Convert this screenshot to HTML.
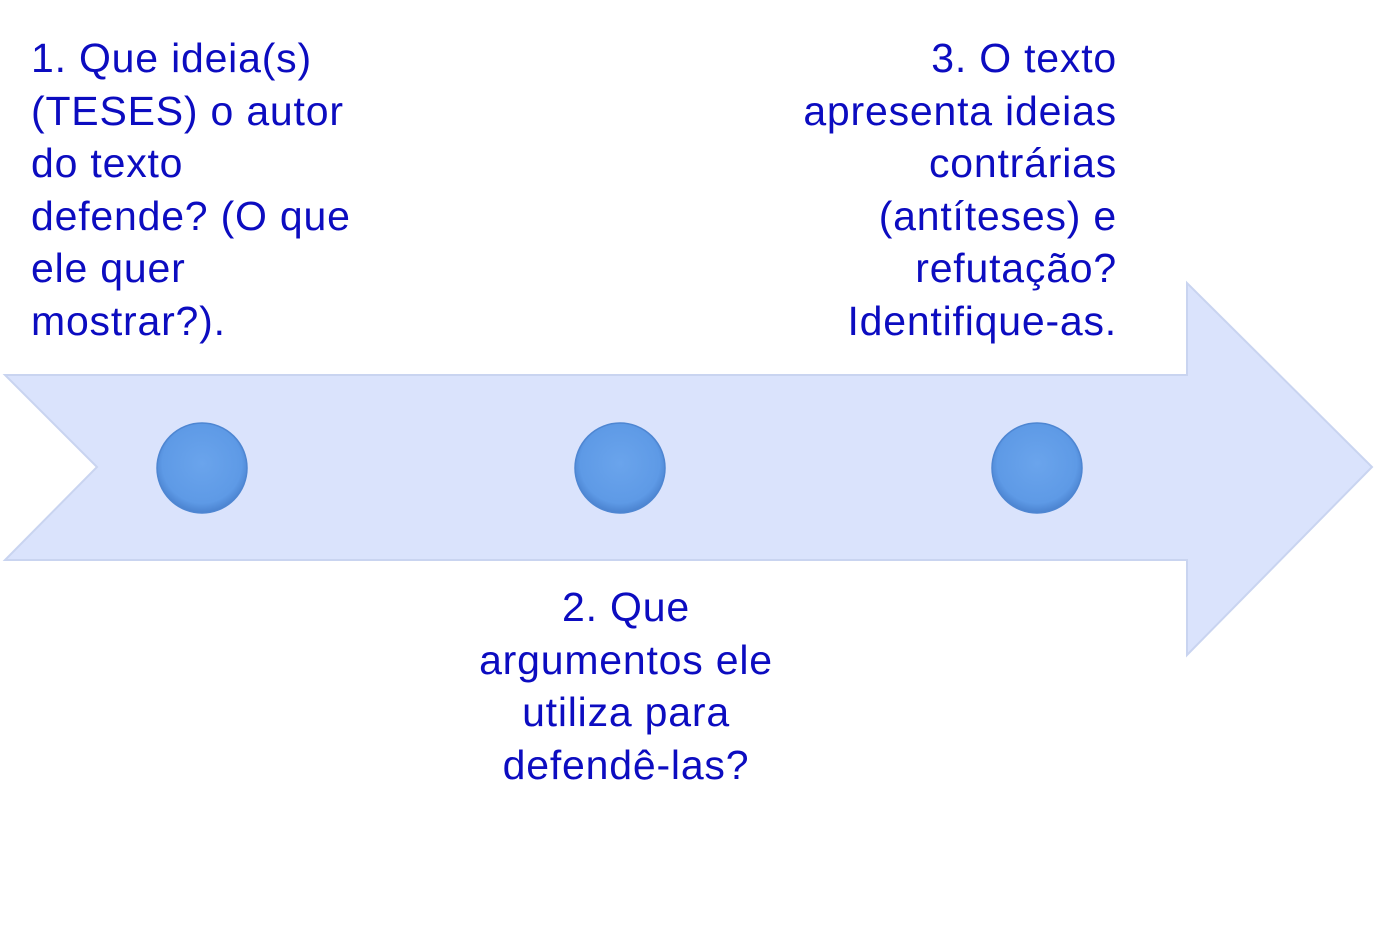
<!DOCTYPE html>
<html><head><meta charset="utf-8"><style>
html,body{margin:0;padding:0;background:#fff;}
body{width:1375px;height:937px;position:relative;overflow:hidden;font-family:"Liberation Sans",sans-serif;}
.t{position:absolute;color:#0c0cc0;font-size:41px;letter-spacing:0.8px;line-height:52.5px;white-space:nowrap;}
</style></head><body>
<svg width="1375" height="937" style="position:absolute;left:0;top:0">
<defs>
<radialGradient id="g" cx="50%" cy="45%" r="55%">
<stop offset="0" stop-color="#6aa4ec"/><stop offset="0.8" stop-color="#5e9ae6"/><stop offset="1" stop-color="#4a82cf"/>
</radialGradient>
</defs>
<polygon points="5,375 1187,375 1187,283 1372,467 1187,655 1187,560 5,560 97,467" fill="#dae3fc" stroke="#c9d4f0" stroke-width="2"/>
<circle cx="202" cy="468" r="45" fill="url(#g)" stroke="#4e86d2" stroke-width="1.5"/>
<circle cx="620" cy="468" r="45" fill="url(#g)" stroke="#4e86d2" stroke-width="1.5"/>
<circle cx="1037" cy="468" r="45" fill="url(#g)" stroke="#4e86d2" stroke-width="1.5"/>
</svg>
<div class="t" style="left:31px;top:32px;">1. Que ideia(s)<br>(TESES) o autor<br>do texto<br>defende? (O que<br>ele quer<br>mostrar?).</div>
<div class="t" style="right:258px;top:32px;text-align:right;">3. O texto<br>apresenta ideias<br>contrárias<br>(antíteses) e<br>refutação?<br>Identifique-as.</div>
<div class="t" style="left:426px;width:400px;top:581px;text-align:center;">2. Que<br>argumentos ele<br>utiliza para<br>defendê-las?</div>
</body></html>
